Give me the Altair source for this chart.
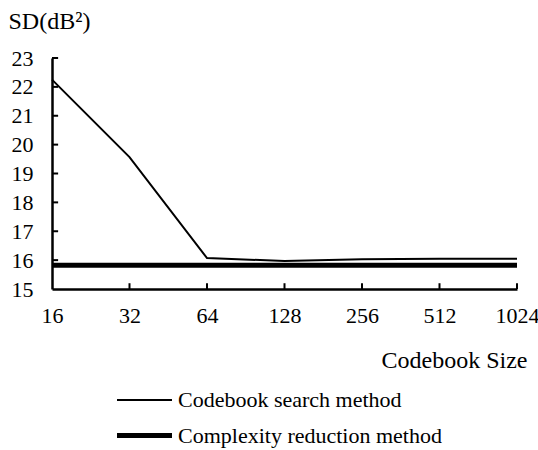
import altair as alt
import pandas as pd

# Codebook sizes on the x axis
sizes = [16, 32, 64, 128, 256, 512, 1024]
# Spectral distortion (dB^2) for each method
search_sd = [22.25, 19.57, 16.07, 15.97, 16.03, 16.05, 16.05]
reduction_sd = [15.82, 15.82, 15.82, 15.82, 15.82, 15.82, 15.82]
series_names = ["Codebook search method", "Complexity reduction method"]
y_levels = [15, 16, 17, 18, 19, 20, 21, 22, 23]

FONT = "Liberation Serif"
FS = 22
TFS = 24

rows = []
for s, v in zip(sizes, search_sd):
    rows.append({"size": s, "sd": v, "series": series_names[0]})
for s, v in zip(sizes, reduction_sd):
    rows.append({"size": s, "sd": v, "series": series_names[1]})
df = pd.DataFrame(rows)

x_scale = alt.Scale(type="log", base=2, domain=[16, 1024], nice=False)
y_scale = alt.Scale(domain=[15, 23], nice=False, zero=False)

x_axis = alt.Axis(values=sizes, format="d", title="Codebook Size",
                  titleAlign="right", titleAnchor="end",
                  titleX=475, titleY=78, titleBaseline="alphabetic",
                  labelPadding=16, labelFlush=False, labelOverlap=False,
                  labelFont=FONT, labelFontSize=FS,
                  titleFont=FONT, titleFontSize=TFS)
y_axis = alt.Axis(values=y_levels, tickCount=9, format="d", title="SD(dB²)",
                  titleAngle=0, titleAlign="left", titleX=-44,
                  titleY=-30, titleBaseline="alphabetic",
                  labelPadding=19, labelOverlap=False,
                  labelFont=FONT, labelFontSize=FS,
                  titleFont=FONT, titleFontSize=TFS)

# legend swatch: a wide horizontal stroke
legend_line = "M-2,0H2"

lines = alt.Chart(df).mark_line(color="black", strokeCap="butt").encode(
    x=alt.X("size:Q", scale=x_scale, axis=x_axis),
    y=alt.Y("sd:Q", scale=y_scale, axis=y_axis),
    strokeWidth=alt.StrokeWidth(
        "series:N",
        scale=alt.Scale(domain=series_names, range=[2, 5]),
        legend=alt.Legend(title=None, orient="none", legendX=76, legendY=327,
                          symbolType=legend_line, symbolSize=756,
                          symbolStrokeColor="black", labelOffset=17,
                          rowPadding=8, padding=0, labelFont=FONT,
                          labelFontSize=FS, labelColor="black",
                          labelLimit=0),
    ),
)

# inward tick marks on the x axis
xtick_df = pd.DataFrame({"size": sizes[1:]})
x_ticks = alt.Chart(xtick_df).mark_rule(color="black", strokeWidth=2).encode(
    x=alt.X("size:Q", scale=x_scale, axis=x_axis),
    y=alt.datum(15), y2=alt.datum(15.2)
)

# inward tick marks on the y axis
ytick_df = pd.DataFrame({"sd": y_levels[1:]})
y_ticks = alt.Chart(ytick_df).mark_rule(color="black", strokeWidth=2).encode(
    y=alt.Y("sd:Q", scale=y_scale, axis=y_axis),
    x=alt.datum(16), x2=alt.datum(16.9)
)

chart = alt.layer(lines, x_ticks, y_ticks).properties(
    width=465, height=231,
    autosize=alt.AutoSizeParams(type="none"),
    padding={"left": 52, "top": 58, "right": 21, "bottom": 161},
    background="white",
).configure(font=FONT).configure_view(stroke=None).configure_axis(
    grid=False, tickSize=0, domainColor="black", domainWidth=2.5,
    labelColor="black", titleColor="black", titleFontWeight="normal",
    labelOverlap=False,
)

chart.save("out.html", embed_options={"renderer": "svg", "actions": False})
